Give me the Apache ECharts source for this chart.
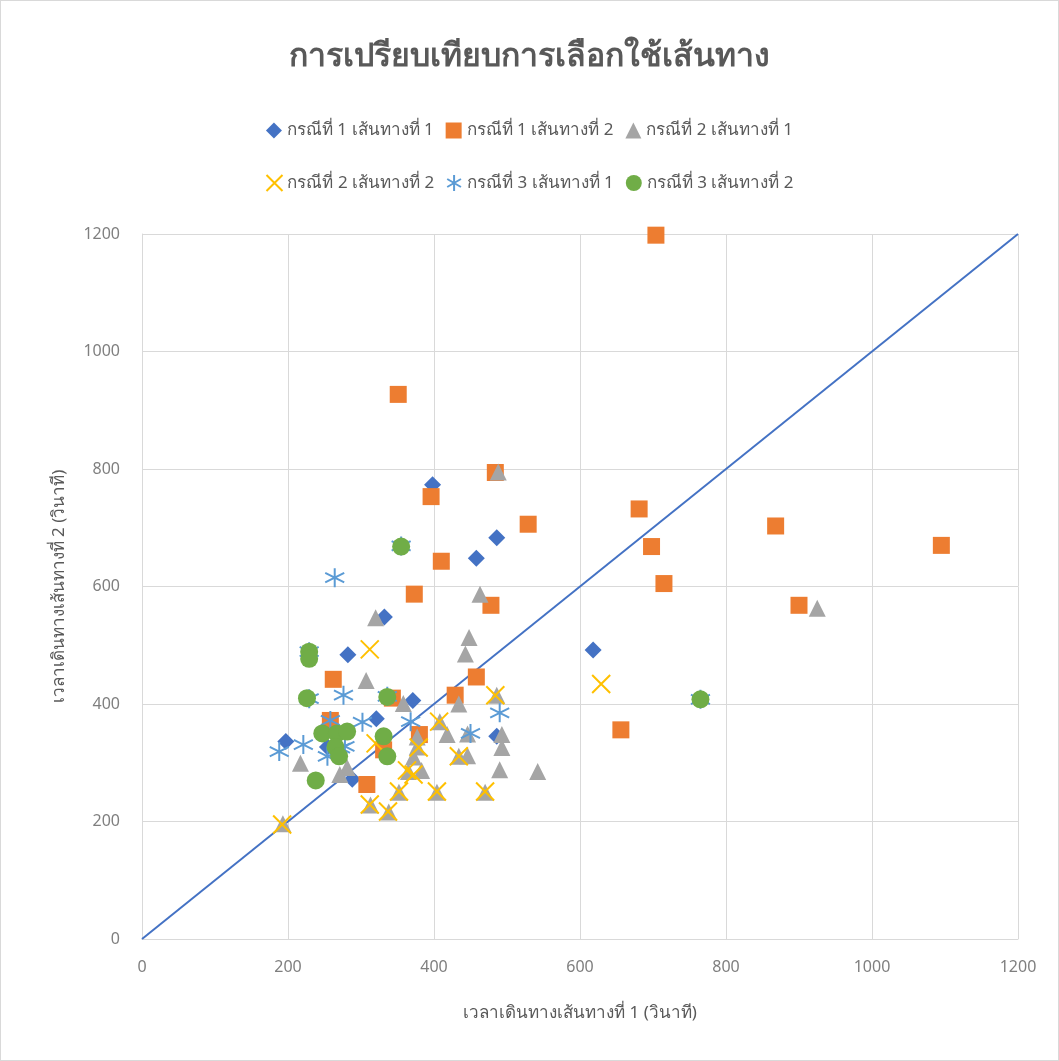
<!DOCTYPE html>
<html>
<head>
<meta charset="utf-8">
<script src="https://cdn.jsdelivr.net/npm/echarts@6/dist/echarts.min.js"></script>
<style>
  html, body { margin: 0; padding: 0; background: #fff; }
  #chart { width: 1059px; height: 1061px; box-sizing: border-box; border: 1px solid #d9d9d9; }
</style>
</head>
<body>
<div id="chart"></div>
<script>
// Travel time pairs (route 1 seconds, route 2 seconds) per case
const case1Route1 = [[197,336],[398,773],[332,548],[282,484],[321,375],[371,406],[288,272],[486,345],[618,492],[486,683],[458,648],[254,327]];
const case1Route2 = [[704,1198],[351,927],[396,753],[484,794],[529,706],[410,643],[373,587],[478,568],[681,732],[698,668],[715,605],[868,703],[900,568],[1095,670],[656,356],[458,446],[429,415],[262,442],[258,372],[343,410],[380,348],[331,322],[308,263]];
const case2Route1 = [[488,795],[463,587],[448,513],[443,485],[320,547],[307,440],[358,401],[434,400],[486,415],[408,370],[418,348],[377,344],[377,327],[372,310],[383,287],[365,285],[446,349],[493,348],[493,326],[446,312],[434,311],[490,288],[542,285],[281,292],[271,280],[217,299],[313,228],[338,216],[352,250],[404,250],[470,250],[193,196],[925,563]];
const case2Route2 = [[192,195],[312,493],[629,434],[484,415],[407,370],[320,333],[379,326],[434,311],[363,287],[372,280],[352,251],[404,251],[470,251],[312,229],[337,217]];
const case3Route1 = [[264,615],[276,415],[188,319],[221,331],[258,372],[302,369],[254,311],[278,328],[368,370],[450,350],[490,385],[272,325],[355,669],[229,409],[229,489],[336,413],[765,408]];
const case3Route2 = [[355,668],[229,489],[229,477],[226,410],[247,350],[267,350],[281,353],[265,327],[270,311],[238,270],[336,412],[331,345],[336,311],[765,408]];
const equalTimeLine = [[0,0],[1200,1200]];

const seriesNames = [
  'กรณีที่ 1 เส้นทางที่ 1', 'กรณีที่ 1 เส้นทางที่ 2', 'กรณีที่ 2 เส้นทางที่ 1',
  'กรณีที่ 2 เส้นทางที่ 2', 'กรณีที่ 3 เส้นทางที่ 1', 'กรณีที่ 3 เส้นทางที่ 2'
];
const axisTicks = [0, 200, 400, 600, 800, 1000, 1200];

const FONT = '"Liberation Sans Narrow", "Noto Sans", "DejaVu Sans", sans-serif';
const TXT = '#595959';
const TICK = '#7f7f7f';

const crossPath = 'path://M0,0L10,10M10,0L0,10';
const starPath = 'path://M5,0L5,10M0.7,2.5L9.3,7.5M0.7,7.5L9.3,2.5';

const chart = echarts.init(document.getElementById('chart'), null, { renderer: 'canvas' });

const legendText = { fontFamily: FONT, fontSize: 17, color: TXT };
const plainNumber = v => String(v);

chart.setOption({
  animation: false,
  title: {
    text: 'การเปรียบเทียบการเลือกใช้เส้นทาง',
    left: 'center',
    top: 35,
    textStyle: { fontFamily: FONT, fontSize: 32, fontWeight: 'bold', color: TXT }
  },
  legend: [
    {
      data: seriesNames.slice(0, 3), top: 116, left: 'center',
      itemWidth: 16, itemHeight: 16, itemGap: 12, textStyle: legendText
    },
    {
      data: seriesNames.slice(3, 6), top: 168, left: 'center',
      itemWidth: 16, itemHeight: 16, itemGap: 12, textStyle: legendText
    }
  ],
  grid: { left: 141, right: 40, top: 233, bottom: 121, containLabel: false },
  xAxis: {
    type: 'value', min: axisTicks[0], max: axisTicks[axisTicks.length - 1], interval: 200,
    name: 'เวลาเดินทางเส้นทางที่ 1 (วินาที)', nameLocation: 'middle', nameGap: 66,
    nameTextStyle: { fontFamily: FONT, fontSize: 17, color: TXT },
    axisLine: { show: true, lineStyle: { color: '#d9d9d9', width: 1 } },
    axisTick: { show: false },
    axisLabel: { fontFamily: FONT, fontSize: 16, color: TICK, margin: 20, formatter: plainNumber },
    splitLine: { show: true, lineStyle: { color: '#d9d9d9', width: 1 } }
  },
  yAxis: {
    type: 'value', min: axisTicks[0], max: axisTicks[axisTicks.length - 1], interval: 200,
    name: 'เวลาเดินทางเส้นทางที่ 2 (วินาที)', nameLocation: 'middle', nameGap: 74,
    nameTextStyle: { fontFamily: FONT, fontSize: 17, color: TXT },
    axisLine: { show: true, lineStyle: { color: '#d9d9d9', width: 1 } },
    axisTick: { show: false },
    axisLabel: { fontFamily: FONT, fontSize: 16, color: TICK, margin: 22, formatter: plainNumber },
    splitLine: { show: true, lineStyle: { color: '#d9d9d9', width: 1 } }
  },
  series: [
    {
      name: 'equal', type: 'line', data: equalTimeLine, symbol: 'none', silent: true,
      lineStyle: { color: '#4472C4', width: 2 }, z: 1
    },
    {
      name: seriesNames[0], type: 'scatter', data: case1Route1, symbol: 'diamond', symbolSize: 17,
      itemStyle: { color: '#4472C4', opacity: 1 }, z: 2
    },
    {
      name: seriesNames[1], type: 'scatter', data: case1Route2, symbol: 'rect', symbolSize: 17,
      itemStyle: { color: '#ED7D31', opacity: 1 }, z: 3
    },
    {
      name: seriesNames[2], type: 'scatter', data: case2Route1, symbol: 'triangle', symbolSize: 17,
      itemStyle: { color: '#A5A5A5', opacity: 1 }, z: 4
    },
    {
      name: seriesNames[3], type: 'scatter', data: case2Route2, symbol: crossPath, symbolSize: 18,
      itemStyle: { color: 'rgba(0,0,0,0)', borderColor: '#FFC000', borderWidth: 2, opacity: 1 }, z: 5
    },
    {
      name: seriesNames[4], type: 'scatter', data: case3Route1, symbol: starPath, symbolSize: 19,
      itemStyle: { color: 'rgba(0,0,0,0)', borderColor: '#5B9BD5', borderWidth: 2, opacity: 1 }, z: 6
    },
    {
      name: seriesNames[5], type: 'scatter', data: case3Route2, symbol: 'circle', symbolSize: 18,
      itemStyle: { color: '#70AD47', opacity: 1 }, z: 7
    }
  ]
});
</script>
</body>
</html>
